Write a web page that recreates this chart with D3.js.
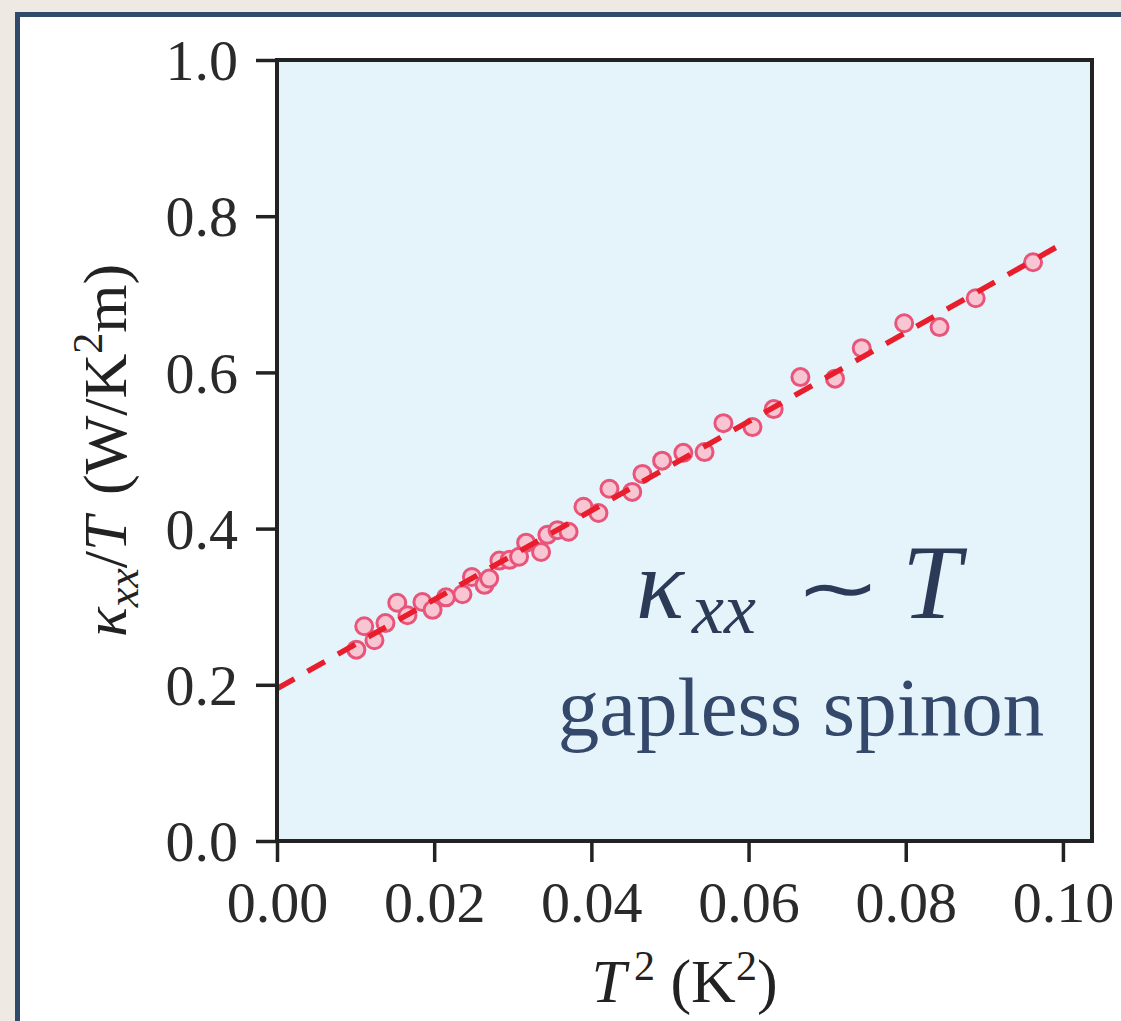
<!DOCTYPE html>
<html>
<head>
<meta charset="utf-8">
<script src="https://cdn.jsdelivr.net/npm/d3@7"></script>
<style>
    body { margin: 0; background: #eeeae3; }
    svg { display: block; }
</style>
</head>
<body>
<div id="chart"></div>
<script>
// Data: T^2 (K^2) and kappa_xx/T (W/K^2 m)
const tSquared = [0.0101, 0.0111, 0.0124, 0.0138, 0.0153, 0.0166, 0.0185, 0.0198, 0.0215, 0.0236,
    0.0248, 0.0264, 0.0270, 0.0283, 0.0296, 0.0308, 0.0317, 0.0336, 0.0344, 0.0357,
    0.0371, 0.0390, 0.0409, 0.0423, 0.0452, 0.0465, 0.0490, 0.0517, 0.0544, 0.0568,
    0.0605, 0.0632, 0.0666, 0.0710, 0.0744, 0.0798, 0.0843, 0.0889, 0.0962];
const kappaOverT = [0.245, 0.275, 0.257, 0.279, 0.305, 0.289, 0.306, 0.296, 0.312, 0.316,
    0.338, 0.328, 0.336, 0.359, 0.360, 0.364, 0.382, 0.370, 0.392, 0.398,
    0.396, 0.428, 0.420, 0.451, 0.447, 0.470, 0.487, 0.497, 0.498, 0.535,
    0.530, 0.553, 0.594, 0.592, 0.631, 0.663, 0.658, 0.695, 0.741];
// Linear fit drawn as a dashed line (two end points)
const fitX = [0, 0.0998];
const fitY = [0.195, 0.764];
// Tick values
const xTicks = [0, 0.02, 0.04, 0.06, 0.08, 0.10];
const yTicks = [0, 0.2, 0.4, 0.6, 0.8, 1.0];

const width = 1121;
const height = 1021;
const plot = {left: 277, right: 1092, top: 60, bottom: 841};
const serif = '"Liberation Serif", "DejaVu Serif", serif';
const noteColor = '#2b3b57';

const svg = d3.select('#chart').append('svg')
    .attr('width', width)
    .attr('height', height);

// Slide frame: white card with navy border, cut by the right and bottom edges
svg.append('rect')
    .attr('x', 17.5).attr('y', 14.5)
    .attr('width', width).attr('height', height)
    .attr('fill', '#ffffff')
    .attr('stroke', '#2f4a6b')
    .attr('stroke-width', 5);

const xScale = d3.scaleLinear().domain([0, 0.1037]).range([plot.left, plot.right]);
const yScale = d3.scaleLinear().domain([0, 1]).range([plot.bottom, plot.top]);

// Plot background
svg.append('rect')
    .attr('x', plot.left).attr('y', plot.top)
    .attr('width', plot.right - plot.left)
    .attr('height', plot.bottom - plot.top)
    .attr('fill', '#e4f4fa');

// Axes
const xAxis = d3.axisBottom(xScale).tickValues(xTicks).tickFormat(d3.format('.2f'))
    .tickSize(21).tickSizeOuter(0).tickPadding(19);
const yAxis = d3.axisLeft(yScale).tickValues(yTicks).tickFormat(d3.format('.1f'))
    .tickSize(21).tickSizeOuter(0).tickPadding(18);

const gx = svg.append('g').attr('transform', 'translate(0,' + plot.bottom + ')').call(xAxis);
const gy = svg.append('g').attr('transform', 'translate(' + plot.left + ',0)').call(yAxis);
[gx, gy].forEach(g => {
    g.select('.domain').remove();
    g.selectAll('.tick line').attr('stroke', '#222').attr('stroke-width', 3.5);
    g.selectAll('.tick text')
        .attr('fill', '#2a2a2a')
        .style('font-family', serif)
        .style('font-size', '58px');
});
gy.selectAll('.tick text').attr('dy', '0.34em');

// Scatter points
svg.append('g').selectAll('circle')
    .data(tSquared.map((t, i) => ({x: t, y: kappaOverT[i]})))
    .enter().append('circle')
    .attr('cx', d => xScale(d.x))
    .attr('cy', d => yScale(d.y))
    .attr('r', 8.5)
    .attr('fill', '#f8c6d2')
    .attr('stroke', '#e9557a')
    .attr('stroke-width', 3);

// Dashed fit line
svg.append('path')
    .datum(fitX.map((x, i) => [x, fitY[i]]))
    .attr('d', d3.line().x(d => xScale(d[0])).y(d => yScale(d[1])))
    .attr('fill', 'none')
    .attr('stroke', '#e81e2c')
    .attr('stroke-width', 5.5)
    .attr('stroke-dasharray', '20,15');

// Spines
svg.append('rect')
    .attr('x', plot.left).attr('y', plot.top)
    .attr('width', plot.right - plot.left)
    .attr('height', plot.bottom - plot.top)
    .attr('fill', 'none')
    .attr('stroke', '#222')
    .attr('stroke-width', 4);

// Axis labels
const xLabel = svg.append('text')
    .attr('x', (plot.left + plot.right) / 2)
    .attr('y', 1002)
    .attr('text-anchor', 'middle')
    .attr('fill', '#222')
    .style('font-family', serif)
    .style('font-size', '62px');
xLabel.append('tspan').style('font-style', 'italic').text('T');
xLabel.append('tspan').attr('dx', 8).attr('dy', -22).style('font-size', '42px').text('2');
xLabel.append('tspan').attr('dy', 22).text(' (K');
xLabel.append('tspan').attr('dy', -22).style('font-size', '42px').text('2');
xLabel.append('tspan').attr('dy', 22).text(')');

const yLabel = svg.append('text')
    .attr('transform', 'translate(126,' + (plot.top + plot.bottom) / 2 + ') rotate(-90)')
    .attr('text-anchor', 'middle')
    .attr('fill', '#222')
    .style('font-family', serif)
    .style('font-size', '62px');
yLabel.append('tspan').style('font-style', 'italic').text('κ');
yLabel.append('tspan').attr('dy', 12).style('font-style', 'italic').style('font-size', '44px').text('xx');
yLabel.append('tspan').attr('dy', -12).text('/');
yLabel.append('tspan').style('font-style', 'italic').text('T');
yLabel.append('tspan').attr('dx', 6).text(' (W/K');
yLabel.append('tspan').attr('dy', -24).style('font-size', '42px').text('2');
yLabel.append('tspan').attr('dy', 24).text('m)');

// Annotation: kappa_xx ~ T, built from three text pieces so the tilde can be stretched
const note = svg.append('text')
    .attr('x', 636)
    .attr('y', 618)
    .attr('fill', noteColor)
    .style('font-family', serif)
    .style('font-style', 'italic')
    .style('font-size', '100px');
note.append('tspan').text('κ');
note.append('tspan').attr('dx', 8).attr('dy', 15).style('font-size', '72px').text('xx');

svg.append('text')
    .attr('transform', 'translate(838,614) scale(1.35,1)')
    .attr('text-anchor', 'middle')
    .attr('fill', noteColor)
    .style('font-family', '"DejaVu Sans", sans-serif')
    .style('font-size', '76px')
    .text('∼');

svg.append('text')
    .attr('x', 902)
    .attr('y', 618)
    .attr('fill', noteColor)
    .style('font-family', serif)
    .style('font-style', 'italic')
    .style('font-size', '106px')
    .text('T');

svg.append('text')
    .attr('x', 801)
    .attr('y', 735)
    .attr('text-anchor', 'middle')
    .attr('fill', '#33486a')
    .style('font-family', serif)
    .style('font-size', '83px')
    .text('gapless spinon');
</script>
</body>
</html>
